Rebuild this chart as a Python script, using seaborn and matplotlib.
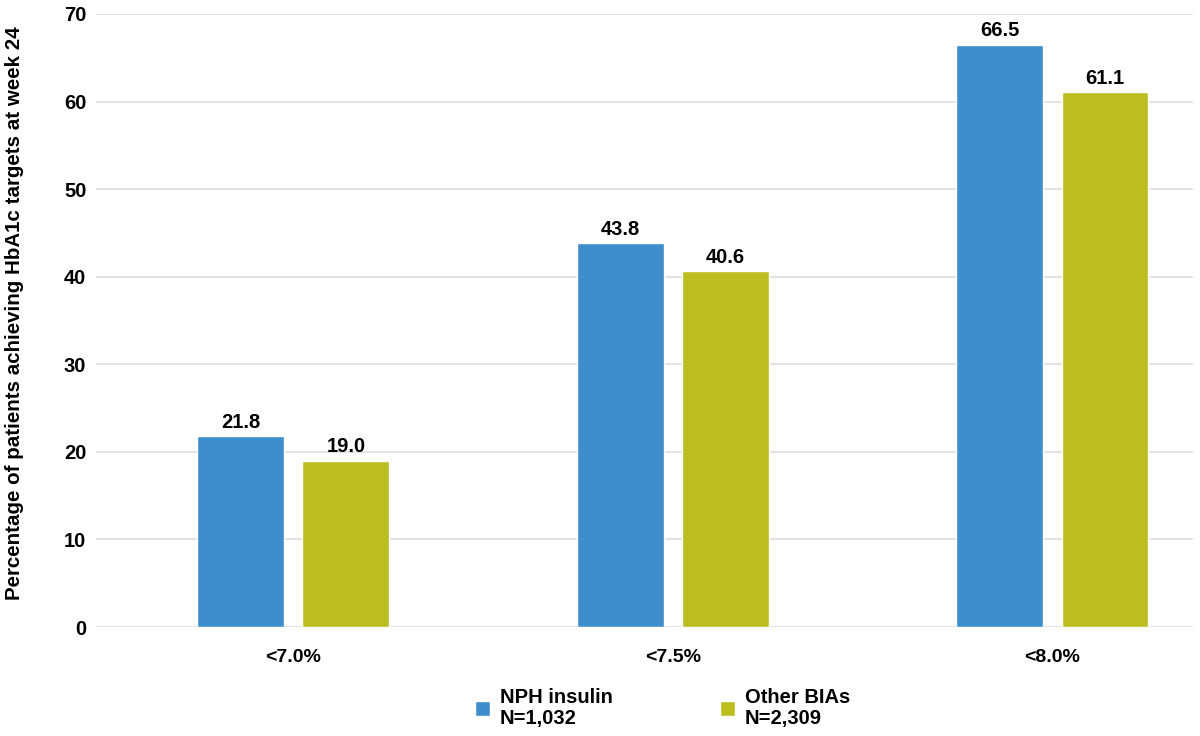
import matplotlib
matplotlib.use("Agg")
import matplotlib.pyplot as plt
import seaborn as sns
import pandas as pd

# data
targets = ["<7.0%", "<7.5%", "<8.0%"]
nph_insulin = [21.8, 43.8, 66.5]
other_bias = [19.0, 40.6, 61.1]
group_labels = ["NPH insulin\nN=1,032", "Other BIAs\nN=2,309"]
colors = ["#3F8DCB", "#BBBE1E"]

df = pd.DataFrame({
    "target": targets * 2,
    "pct": nph_insulin + other_bias,
    "group": [group_labels[0]] * 3 + [group_labels[1]] * 3,
})

sns.set_style("white")
plt.rcParams["font.family"] = ["Liberation Sans", "DejaVu Sans"]
plt.rcParams["font.weight"] = "bold"
plt.rcParams["text.color"] = "black"
plt.rcParams["xtick.color"] = "black"
plt.rcParams["ytick.color"] = "black"
plt.rcParams["axes.labelcolor"] = "black"

fig = plt.figure(figsize=(12, 7.36), dpi=100)
ax = fig.add_axes([0.08, 0.148, 0.914, 0.833])

sns.barplot(data=df, x="target", y="pct", hue="group", order=targets,
            hue_order=group_labels, palette=colors, width=0.554, gap=0.174,
            saturation=1, ax=ax)

for cont in ax.containers:
    ax.bar_label(cont, fmt="%.1f", padding=3, fontsize=14.5,
                 fontweight="bold", color="black")

ax.set_ylim(0, 70)
ax.set_xlim(-0.52, 2.37)
ax.set_yticks(range(0, 71, 10))
ax.yaxis.grid(True, color="#DDDDDD", lw=1.2)
ax.set_axisbelow(True)
for s in ax.spines.values():
    s.set_visible(False)
ax.tick_params(axis="y", length=0, pad=7, labelsize=14.5)
ax.tick_params(axis="x", length=0, pad=16, labelsize=14)
for lab in ax.get_xticklabels() + ax.get_yticklabels():
    lab.set_fontweight("bold")
ax.set_xlabel("")
ax.set_ylabel("Percentage of patients achieving HbA1c targets at week 24",
              fontsize=14.8, fontweight="bold")
ax.yaxis.set_label_coords(-0.066, 0.512)

handles, labels = ax.get_legend_handles_labels()
ax.get_legend().remove()
leg = fig.legend(handles, labels, loc="center", bbox_to_anchor=(0.552, 0.038),
                 ncol=2, frameon=False, handlelength=0.75,
                 handleheight=0.75, handletextpad=0.5, columnspacing=5.3,
                 prop={"weight": "bold", "size": 14.5})
for t in leg.get_texts():
    t.set_linespacing(1.15)

fig.savefig("out.png", dpi=100)
